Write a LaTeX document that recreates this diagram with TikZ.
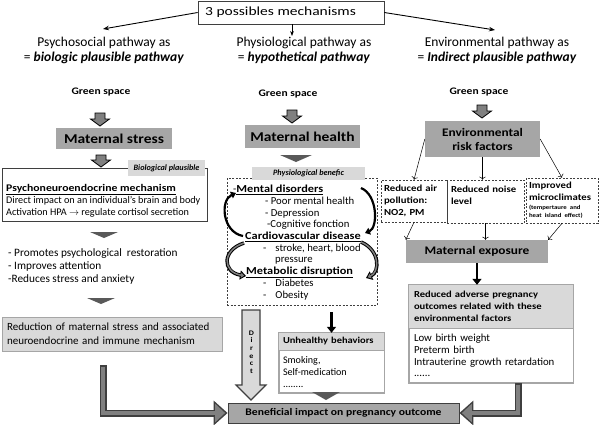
\documentclass[tikz,border=0pt]{standalone}
\usepackage{fontspec}
\setmainfont{Carlito}[BoldFeatures={FakeStretch=1.15}]
\newfontfamily\widefont{Carlito}[FakeStretch=1.25]
\usetikzlibrary{arrows.meta,calc}

\definecolor{boxgray}{HTML}{A6A6A6}
\definecolor{palegray}{HTML}{D9D9D9}
\definecolor{arrowgray}{HTML}{808080}
\definecolor{chevgray}{HTML}{595959}
\definecolor{darkline}{HTML}{3F3F3F}

% block arrow pointing down: style, x, y top, y tip, body half width, head half width, head length
\newcommand{\blockdown}[7]{%
  \filldraw[#1] ({#2-#5},#3) -- ({#2+#5},#3) -- ({#2+#5},{#4-#7}) -- ({#2+#6},{#4-#7})
    -- (#2,#4) -- ({#2-#6},{#4-#7}) -- ({#2-#5},{#4-#7}) -- cycle;}

\tikzset{
  graybox/.style={fill=boxgray, inner sep=0pt, align=center, font=\bfseries\fontsize{13.5}{15}\selectfont},
  palebox/.style={fill=palegray, inner sep=0pt},
  whitebox/.style={fill=white, draw=boxgray, line width=0.7pt, inner sep=0pt},
  dashbox/.style={draw=darkline, dash pattern=on 2pt off 1.5pt, line width=0.6pt, inner sep=0pt},
  titletext/.style={align=center, inner sep=0pt, font=\fontsize{13.5}{15}\selectfont},
  gslabel/.style={inner sep=0pt, font=\bfseries\fontsize{10}{12}\selectfont},
  fatdown/.style={fill=arrowgray, draw=black, line width=0.8pt},
  bigdown/.style={fill=palegray, draw=darkline, line width=1.2pt},
  envarrow/.style={-{To[length=3pt]}, line width=0.5pt},
  blkarrow/.style={line width=2.5pt, -{Triangle[length=6pt,width=9pt]}},
  dblarrow/.style={line width=7pt, draw=darkline, -{Triangle[length=14pt,width=24pt]},
    postaction={draw=arrowgray, line width=3.5pt, shorten <=1.5pt, shorten >=2.5pt,
      -{Triangle[length=10pt,width=18pt]}}},
  curvblk/.style={line width=2.2pt, -{Triangle[length=5pt,width=7pt]}},
  curvgray/.style={line width=3.5pt, -{Triangle[length=6pt,width=9pt]},
    postaction={draw=arrowgray, line width=1.5pt, shorten >=2pt, -{Triangle[length=3pt,width=5pt]}}}
}

\begin{document}
\begin{tikzpicture}[x=1pt,y=-1pt]
  \useasboundingbox (0,0) rectangle (600,424);

  % top
  \node[draw=darkline, line width=0.6pt, minimum width=186pt, minimum height=23pt, inner sep=0pt] (mech) at (291,12.5) {};
  \node[anchor=west, inner sep=0pt, font=\widefont\fontsize{12.4}{14}\selectfont] (mechTxt) at (205,12.5) {3 possibles mechanisms};
  \node[titletext] (psyT) at (104,50) {Psychosocial pathway as\\= \textbf{\textit{biologic plausible pathway}}};
  \node[titletext] (physT) at (304,50) {Physiological pathway as\\= \textbf{\textit{hypothetical pathway}}};
  \node[titletext] (envT) at (497,50) {Environmental pathway as\\= \textbf{\textit{Indirect plausible pathway}}};
  \coordinate (psyTip) at (103,29);
  \coordinate (physTip) at (292,36);
  \coordinate (envTip) at (495,30);
  \draw[-{Stealth[length=6pt]}, line width=0.9pt] (mech.west) -- (psyTip);
  \draw[-{Stealth[length=5pt]}, line width=0.9pt] (mech.south -| physTip) -- (physTip);
  \draw[-{Stealth[length=6pt]}, line width=0.9pt] (mech.east) -- (envTip);

  \node[gslabel] (gsL) at (101,92) {Green space};
  \node[gslabel] (gsM) at (288,94) {Green space};
  \node[gslabel] (gsR) at (479,92) {Green space};
  \blockdown{fatdown}{100}{113}{126}{5}{9.5}{7}
  \blockdown{fatdown}{292}{110}{123}{5}{9.5}{7}
  \blockdown{fatdown}{482}{105}{118}{5}{9.5}{7}

  \node[graybox, minimum width=116pt, minimum height=21pt] (stress) at (114,138.5) {Maternal stress};
  \node[graybox, minimum width=115pt, minimum height=23pt] (health) at (302.5,136.5) {Maternal health};
  \node[graybox, minimum width=115pt, minimum height=36pt, font=\bfseries\fontsize{11.6}{14}\selectfont] (envRisk) at (482.5,139) {Environmental\\risk factors};

  % psychosocial pathway
  \blockdown{fatdown}{101}{155}{167}{5}{9.5}{7}
  \node[draw=darkline, line width=0.7pt, minimum width=205pt, minimum height=53pt, inner sep=0pt] (psycho) at (104.5,194.5) {};
  \node[palebox, minimum width=77pt, minimum height=16pt, font=\bfseries\itshape\fontsize{8.2}{9}\selectfont] (bioLbl) at (166.5,168) {Biological plausible};
  \node[anchor=north west, inner sep=0pt, align=left, font=\fontsize{10.2}{12}\selectfont] (psychoTxt) at (6,184)
    {\textbf{\underline{Psychoneuroendocrine mechanism}}\\Direct impact on an individual’s brain and body\\Activation HPA $\rightarrow$ regulate cortisol secretion};
  \fill[chevgray] (90,232) -- (118,232) -- (104,238) -- cycle;
  \node[anchor=north west, inner sep=0pt, align=left, font=\fontsize{11.3}{13}\selectfont] (effects) at (8,248)
    {- Promotes psychological\ \ restoration\\- Improves attention\\-Reduces stress and anxiety};
  \fill[chevgray] (87,298) -- (115,298) -- (101,304) -- cycle;
  \node[palebox, draw=boxgray, line width=0.8pt, minimum height=34pt, text width=210pt, inner xsep=5pt,
    align=left, font=\fontsize{11}{14}\selectfont] (reduction) at (112,334)
    {Reduction of maternal stress and associated\\neuroendocrine and immune mechanism};

  % physiological pathway
  \fill[chevgray] (280,155) -- (312,155) -- (296,162) -- cycle;
  \node[dashbox, minimum width=150pt, minimum height=127pt] (physBox) at (302,241.5) {};
  \node[palebox, minimum width=113pt, minimum height=13pt, font=\bfseries\itshape\fontsize{8.2}{9}\selectfont] (physLbl) at (308.5,173) {Physiological benefic};
  \node[anchor=north west, inner sep=0pt, align=left, font=\fontsize{10.7}{11.7}\selectfont] (physTxt) at (233,185)
    {-\textbf{\underline{Mental disorders}}\\
     \hspace{32pt}- Poor mental health\\
     \hspace{32pt}- Depression\\
     \hspace{34pt}-Cognitive fonction\\
     \hspace{12pt}\textbf{\underline{Cardiovascular disease}}\\
     \hspace{30pt}-\hspace{9pt}stroke, heart, blood\\
     \hspace{42pt}pressure\\
     \hspace{13pt}\textbf{\underline{Metabolic disruption}}\\
     \hspace{30pt}-\hspace{9pt}Diabetes\\
     \hspace{30pt}-\hspace{9pt}Obesity};
  \coordinate (mdL) at (236,193);
  \coordinate (cvL) at (243,236);
  \coordinate (cvL2) at (244,243);
  \coordinate (mbL) at (246,276);
  \coordinate (mdR) at (361,188);
  \coordinate (cvR) at (365,233);
  \coordinate (cvR2) at (361,242);
  \coordinate (mbR) at (366,278);
  \draw[curvblk] (cvL) .. controls (222,232) and (220,200) .. (mdL);
  \draw[curvgray] (cvL2) .. controls (222,250) and (222,272) .. (mbL);
  \draw[curvblk] (mdR) .. controls (378,195) and (378,228) .. (cvR);
  \draw[curvgray] (cvR2) .. controls (380,250) and (380,272) .. (mbR);

  \blockdown{bigdown}{251}{310}{400}{9}{15}{15}
  \node[inner sep=0pt, align=center, font=\bfseries\fontsize{7}{7.6}\selectfont] (directTxt) at (251.5,352) {D\\i\\r\\e\\c\\t};

  \node[palebox, minimum width=105pt, minimum height=17pt, text width=97pt, inner xsep=4pt, align=left,
    font=\bfseries\fontsize{9.1}{11}\selectfont] (unhealthyHd) at (331.5,341.5) {Unhealthy behaviors};
  \node[whitebox, anchor=north, minimum height=42pt, text width=97pt, inner xsep=4pt, align=left,
    font=\fontsize{10.1}{12}\selectfont] (unhealthy) at (unhealthyHd.south) {Smoking,\\Self-medication\\........};
  \draw[boxgray, line width=0.7pt] (unhealthyHd.north west) rectangle (unhealthy.south east);
  \draw[blkarrow, shorten <=7pt] (physBox.south -| unhealthyHd.north) -- (unhealthyHd.north);
  \fill[chevgray] (312,392) -- (340,392) -- (326,400) -- cycle;

  % environmental pathway
  \node[dashbox, minimum width=66pt, minimum height=42pt, text width=60pt, inner xsep=3pt, align=left,
    font=\bfseries\fontsize{9.3}{12}\selectfont] (airBox) at (414,201) {Reduced air\\pollution:\\NO2, PM};
  \node[dashbox, minimum width=77pt, minimum height=43pt, text width=69pt, inner xsep=4pt, align=left,
    font=\bfseries\fontsize{9.3}{12.5}\selectfont] (noiseBox) at (485.5,201.5) {Reduced noise\\level\\\mbox{}};
  \node[dashbox, minimum width=72pt, minimum height=45pt, text width=66pt, inner xsep=3pt, align=left,
    font=\bfseries\fontsize{9.3}{12}\selectfont] (climBox) at (562,200.5)
    {Improved\\microclimates\\[-3pt]{\fontsize{5.9}{7}\selectfont (tempertaure and}\\[-4pt]{\fontsize{5.9}{7}\selectfont heat island effect)}};
  \draw[envarrow] (envRisk.west) -- (airBox.north);
  \draw[envarrow] (envRisk.south) -- (envRisk.south |- noiseBox.north);
  \draw[envarrow] (envRisk.east) -- (climBox.north);

  \node[graybox, minimum width=142pt, minimum height=23pt, font=\bfseries\fontsize{11.6}{14}\selectfont] (exposure) at (477,251.5) {Maternal exposure};
  \draw[envarrow] (airBox.south) -- (exposure.north west);
  \draw[envarrow] (noiseBox.south) -- (noiseBox.south |- exposure.north);
  \draw[envarrow] (climBox.south) -- (exposure.north east);

  \node[palebox, minimum width=164pt, minimum height=43pt, text width=154pt, inner xsep=5pt, align=left,
    font=\bfseries\fontsize{9.2}{12}\selectfont] (adverseHd) at (491,306.5)
    {Reduced adverse pregnancy\\outcomes related with these\\environmental factors};
  \node[whitebox, anchor=north, minimum height=54pt, text width=154pt, inner xsep=5pt, align=left,
    font=\fontsize{10.8}{11.7}\selectfont] (adverse) at (adverseHd.south)
    {Low birth weight\\Preterm birth\\Intrauterine growth retardation\\......};
  \draw[boxgray, line width=0.7pt] (adverseHd.north west) rectangle (adverse.south east);
  \draw[blkarrow] (exposure.south) -- (exposure.south |- adverseHd.north);

  % outcome
  \node[graybox, draw=darkline, line width=0.8pt, minimum width=231pt, minimum height=20pt,
    font=\bfseries\fontsize{10.1}{12}\selectfont] (benefit) at (343.5,413) {Beneficial impact on pregnancy outcome};
  \coordinate (lStart) at (103,365);
  \coordinate (rStart) at (518,383);
  \draw[dblarrow] (lStart) |- (benefit.west);
  \draw[dblarrow] (rStart) |- (benefit.east);
\end{tikzpicture}
\end{document}
